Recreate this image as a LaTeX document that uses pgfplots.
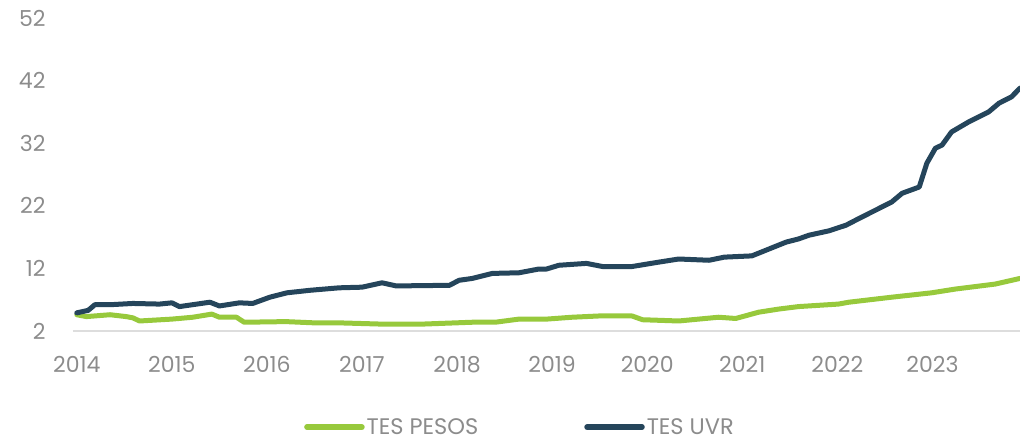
\documentclass[border=0pt]{standalone}
\usepackage{fontspec}
\setmainfont{Poppins}
\usepackage{pgfplots}
\pgfplotsset{compat=1.18}
\definecolor{pesos}{HTML}{97C93C}
\definecolor{uvr}{HTML}{25455B}
\definecolor{txt}{HTML}{8C8C8C}
\definecolor{baseline}{HTML}{DDDDDD}

\begin{document}
\begin{tikzpicture}
\begin{axis}[
    scale only axis,
    width=947bp, height=313bp,
    xmin=2013.96, xmax=2023.92,
    ymin=2, ymax=52,
    axis x line*=bottom, axis y line*=left,
    x axis line style={draw=baseline, line width=1.5bp, -},
    y axis line style={draw=none},
    xtick={2014,...,2023},
    ytick={2,12,22,32,42,52},
    major tick length=0pt,
    /pgf/number format/assume math mode=true,
    /pgf/number format/1000 sep={},
    tick label style={font=\fontsize{22bp}{26bp}\selectfont, text=txt},
    xticklabel style={yshift=-22bp},
    yticklabel style={xshift=-24bp},
    legend style={at={(rel axis cs:0.472,-0.307)}, anchor=center, draw=none,
        font=\fontsize{22.5bp}{26bp}\selectfont, text=txt,
        /tikz/every even column/.append style={column sep=104bp}},
    legend columns=2,
    legend image code/.code={\draw[#1, line width=5.5bp, line cap=round] (0bp,0bp) -- (55bp,0bp);},
    every axis plot/.append style={line width=5bp, line join=round, line cap=round},
]
\addplot[pesos] coordinates {
(2014.00,4.6) (2014.10,4.3) (2014.35,4.6) (2014.52,4.3) (2014.59,4.1) (2014.66,3.6)
(2015.00,3.9) (2015.22,4.2) (2015.42,4.7) (2015.50,4.2) (2015.68,4.2) (2015.76,3.4)
(2016.20,3.5) (2016.50,3.3) (2016.76,3.3) (2017.21,3.1) (2017.63,3.1) (2018.16,3.4)
(2018.40,3.4) (2018.65,3.9) (2018.94,3.9) (2019.21,4.2) (2019.49,4.4) (2019.84,4.4)
(2019.95,3.8) (2020.33,3.6) (2020.75,4.2) (2020.93,4.0) (2021.17,5.0) (2021.38,5.5)
(2021.59,5.9) (2022.01,6.3) (2022.12,6.6) (2022.57,7.4) (2022.99,8.1) (2023.24,8.7)
(2023.66,9.5) (2023.92,10.4)
};
\addlegendentry{TES PESOS}
\addplot[uvr] coordinates {
(2014.00,4.9) (2014.12,5.3) (2014.19,6.2) (2014.35,6.2) (2014.59,6.4) (2014.87,6.3)
(2015.00,6.5) (2015.08,5.9) (2015.40,6.6) (2015.50,6.0) (2015.71,6.5) (2015.85,6.4)
(2016.03,7.4) (2016.21,8.1) (2016.45,8.5) (2016.76,8.9) (2017.00,9.0) (2017.21,9.7)
(2017.36,9.2) (2017.92,9.3) (2018.02,10.1) (2018.16,10.4) (2018.37,11.2) (2018.65,11.3)
(2018.86,11.9) (2018.94,11.9) (2019.07,12.5) (2019.36,12.8) (2019.53,12.3) (2019.84,12.3)
(2020.12,13.0) (2020.33,13.5) (2020.65,13.3) (2020.81,13.8) (2021.10,14.0) (2021.46,16.2)
(2021.59,16.7) (2021.70,17.3) (2021.91,18.0) (2022.09,18.9) (2022.23,20.0) (2022.57,22.6)
(2022.68,24.0) (2022.86,25.0) (2022.94,28.8) (2023.03,31.2) (2023.10,31.7) (2023.20,33.8)
(2023.38,35.4) (2023.59,37.0) (2023.70,38.4) (2023.83,39.4) (2023.92,40.8)
};
\addlegendentry{TES UVR}
\end{axis}
\pgfresetboundingbox
\path[use as bounding box] (-73bp,-110bp) rectangle (947bp,331bp);
\end{tikzpicture}
\end{document}
